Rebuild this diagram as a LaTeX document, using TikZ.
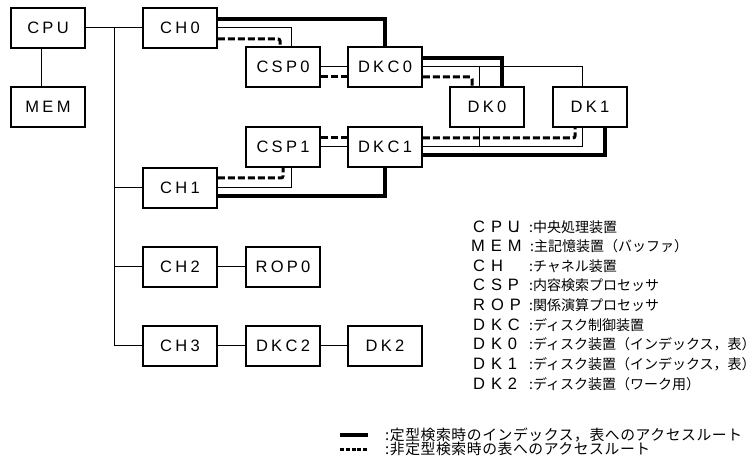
\documentclass[tikz,border=0pt]{standalone}
\usepackage{fontspec}
\usepackage{tikz}
\usetikzlibrary{calc}
\newfontfamily\boxfont[LetterSpace=20]{Liberation Sans}
\newfontfamily\abbrfont[LetterSpace=36]{Liberation Sans}
\newfontfamily\jpfont{Noto Sans CJK JP}
\newfontfamily\keyfont[LetterSpace=4]{Noto Sans CJK JP}

\begin{document}
\begin{tikzpicture}[
    x=1pt, y=-1pt,
    device/.style={rectangle, draw, line width=1.6pt, minimum width=74pt, minimum height=40pt, inner sep=0pt, font=\boxfont\fontsize{16.5}{19}\selectfont},
    link/.style={line width=1pt},
    fixed/.style={line width=3.2pt},
    adhoc/.style={line width=3pt, dash pattern=on 7pt off 3pt, rounded corners=2pt},
    abbr/.style={anchor=west, inner sep=0pt, text height=10pt, text depth=0pt, font=\abbrfont\fontsize{16.5}{18}\selectfont},
    desc/.style={anchor=west, inner sep=0pt, text height=10pt, text depth=0pt, font=\jpfont\fontsize{14}{16}\selectfont},
    keytext/.style={anchor=west, inner sep=0pt, text height=10pt, text depth=0pt, font=\keyfont\fontsize{14.8}{16}\selectfont},
]
\useasboundingbox (0,0) rectangle (756,473);

% host side
\node[device] (cpu) at (48,28) {CPU};
\node[device] (mem) at (48,107) {MEM};
\node[device] (ch0) at (180,28) {CH0};
\node[device] (ch1) at (180,188) {CH1};
\node[device] (ch2) at (180,267) {CH2};
\node[device] (ch3) at (180,346) {CH3};

% search processors and disk controllers
\node[device] (csp0) at (283,67) {CSP0};
\node[device] (dkc0) at (385,67) {DKC0};
\node[device] (csp1) at (283,147) {CSP1};
\node[device] (dkc1) at (385,147) {DKC1};
\node[device] (dk0) at (487,107) {DK0};
\node[device] (dk1) at (590,107) {DK1};
\node[device] (rop0) at (283,267) {ROP0};
\node[device] (dkc2) at (283,346) {DKC2};
\node[device] (dk2) at (385,346) {DK2};

% channel bus
\coordinate (bus) at ($(cpu.east)!.5!(ch0.west)$);
\draw[link] ([xshift=-7pt]cpu.south) -- ([xshift=-7pt]mem.north);
\draw[link] (cpu.east) -- (ch0.west);
\draw[link] (bus) -- (bus |- ch3);
\draw[link] (bus |- ch1) -- (ch1.west);
\draw[link] (bus |- ch2) -- (ch2.west);
\draw[link] (bus |- ch3) -- (ch3.west);
\draw[link] (ch2) -- (rop0);
\draw[link] (ch3) -- (dkc2);
\draw[link] (dkc2) -- (dk2);

% CH0 side
\draw[fixed] ([yshift=9pt]ch0.east) -| (dkc0.north);
\draw[link] (ch0.east) -| ([xshift=8pt]csp0.north);
\draw[adhoc] ([yshift=-11pt]ch0.east) -| ([xshift=-3pt]csp0.north);
\draw[link] (csp0) -- (dkc0);
\draw[adhoc] ([yshift=-10pt]csp0.east) -- ([yshift=-10pt]dkc0.west);
\draw[fixed] ([yshift=9pt]dkc0.east) -| ([xshift=15pt]dk0.north);
\draw[link] (dkc0.east) -| ([xshift=-8pt]dk1.north);
\draw[link] ([xshift=-8pt]dk0.north) -- ([xshift=-8pt]dk0.north |- dkc0);
\draw[adhoc] ([yshift=-10pt]dkc0.east) -| ([xshift=-15pt]dk0.north);

% CH1 side
\draw[adhoc] ([yshift=10pt]ch1.east) -| (csp1.south);
\draw[link] (ch1.east) -| ([xshift=8pt]csp1.south);
\draw[fixed] ([yshift=-8pt]ch1.east) -| (dkc1.south);
\draw[adhoc] ([yshift=9pt]csp1.east) -- ([yshift=9pt]dkc1.west);
\draw[link] (csp1) -- (dkc1);
\draw[adhoc] ([yshift=9pt]dkc1.east) -| ([xshift=-15pt]dk1.south);
\draw[link] (dkc1.east) -| ([xshift=-8pt]dk1.south);
\draw[link] ([xshift=-8pt]dk0.south) -- ([xshift=-8pt]dk0.south |- dkc1);
\draw[fixed] ([yshift=-8pt]dkc1.east) -| ([xshift=15pt]dk1.south);

% abbreviations
\node[abbr] (acpu) at (473,228) {CPU\kern-5pt.};
\node[abbr] (amem) at (471,247) {MEM};
\node[abbr] (ach) at (473,267) {CH};
\node[abbr] (acsp) at (473,286) {CSP};
\node[abbr] (arop) at (473,306) {ROP};
\node[abbr] (adkc) at (473,325.5) {DKC};
\node[abbr] (adk0) at (473,345) {DK0};
\node[abbr] (adk1) at (473,365) {DK1};
\node[abbr] (adk2) at (473,384) {DK2};
\node[desc] (dcpu) at (529,228) {:中央処理装置};
\node[desc] (dmem) at (530,247) {:主記憶装置（バッファ）};
\node[desc] (dch) at (529,267) {:チャネル装置};
\node[desc] (dcsp) at (529,286) {:内容検索プロセッサ};
\node[desc] (drop) at (529,306) {:関係演算プロセッサ};
\node[desc] (ddkc) at (529,325.5) {:ディスク制御装置};
\node[desc] (ddk0) at (529,345) {:ディスク装置（インデックス，表）};
\node[desc] (ddk1) at (529,365) {:ディスク装置（インデックス，表）};
\node[desc] (ddk2) at (529,384) {:ディスク装置（ワーク用）};

% route key
\node[keytext] (keyfix) at (385,435) {:定型検索時のインデックス，表へのアクセスルート};
\node[keytext] (keyadhoc) at (385,449) {:非定型検索時の表へのアクセスルート};
\draw[fixed] ([xshift=-45pt]keyfix.west) -- ([xshift=-17pt]keyfix.west);
\draw[adhoc, dash pattern=on 4pt off 1.8pt] ([xshift=-45pt]keyadhoc.west) -- ([xshift=-17pt]keyadhoc.west);
\end{tikzpicture}
\end{document}
